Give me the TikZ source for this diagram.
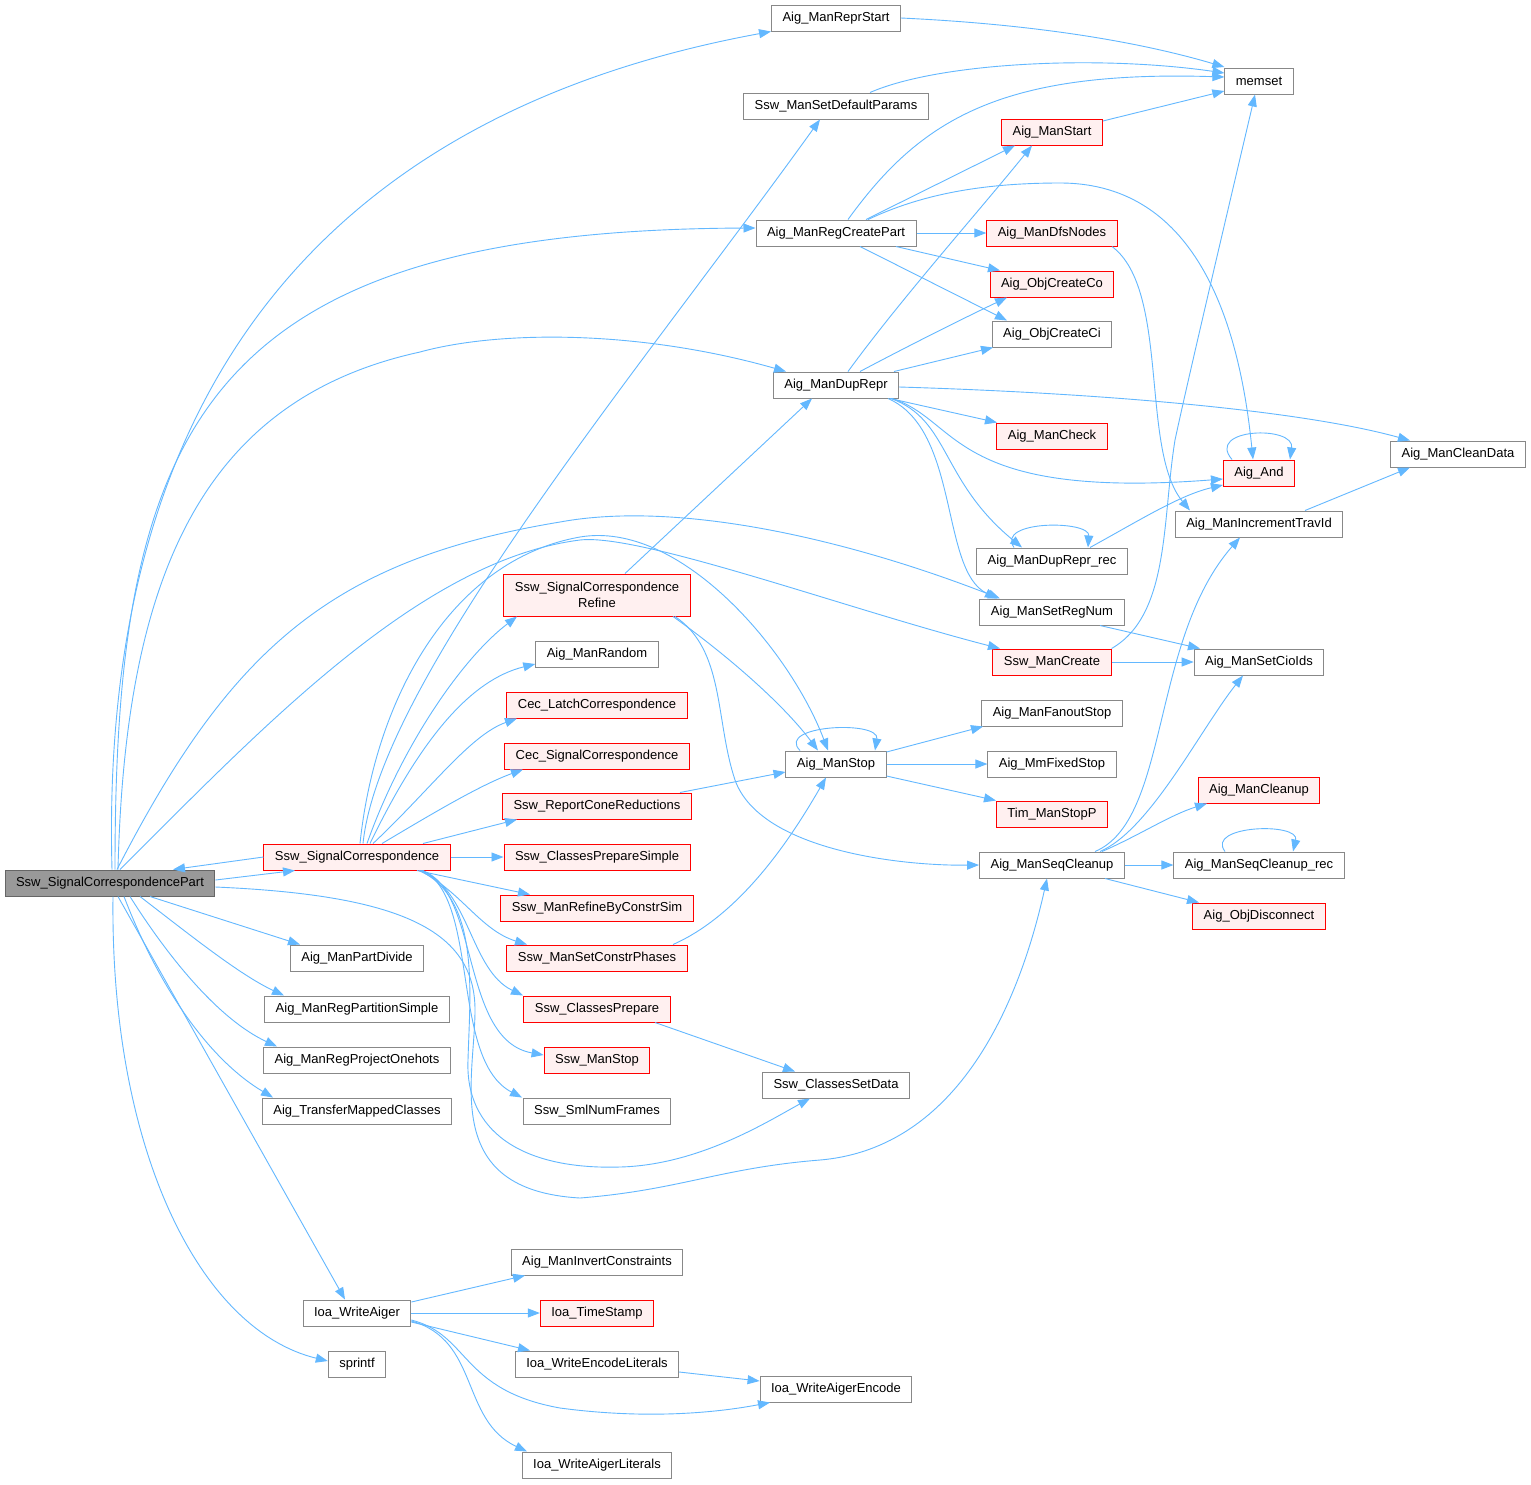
\documentclass[tikz,border=0pt]{standalone}
\usepackage{fontspec}
\setmainfont{Liberation Sans}
\usepackage{tikz}
\usetikzlibrary{arrows.meta}
\definecolor{edgeblue}{HTML}{63B8FF}
\definecolor{boxgray}{HTML}{888888}
\definecolor{redfill}{HTML}{FFF0F0}
\definecolor{rootfill}{HTML}{999999}
\definecolor{rootline}{HTML}{666666}
\newcommand{\graphfont}{\fontsize{13}{16}\selectfont}

\begin{document}
\begin{tikzpicture}[
  x=1pt, y=-1pt,
  box/.style={draw=boxgray,fill=white,line width=1pt,minimum height=26,
              inner xsep=11,inner ysep=0,align=center,font=\graphfont},
  redbox/.style={box,draw=red,fill=redfill},
  rootbox/.style={box,draw=rootline,fill=rootfill},
  call/.style={-{Triangle[length=12,width=9]},draw=edgeblue,line width=0.9pt}
]
  \path[use as bounding box,fill=white] (0,0) rectangle (1531,1484);

  \node[rootbox] (part) at (110,883) {Ssw\_SignalCorrespondencePart};
  \node[box] (reprStart) at (836,18) {Aig\_ManReprStart};
  \node[box] (memset) at (1259,81) {memset};
  \node[box] (setDefParams) at (836,106) {Ssw\_ManSetDefaultParams};
  \node[redbox] (manStart) at (1052,132) {Aig\_ManStart};
  \node[box] (regCreatePart) at (836,233) {Aig\_ManRegCreatePart};
  \node[redbox] (dfsNodes) at (1052,233) {Aig\_ManDfsNodes};
  \node[redbox] (objCreateCo) at (1052,284) {Aig\_ObjCreateCo};
  \node[box] (objCreateCi) at (1052,334) {Aig\_ObjCreateCi};
  \node[box] (dupRepr) at (836,385) {Aig\_ManDupRepr};
  \node[redbox] (manCheck) at (1052,436) {Aig\_ManCheck};
  \node[redbox] (aigAnd) at (1259,473) {Aig\_And};
  \node[box] (cleanData) at (1458,454) {Aig\_ManCleanData};
  \node[box] (incTravId) at (1259,524) {Aig\_ManIncrementTravId};
  \node[box] (dupReprRec) at (1052,561) {Aig\_ManDupRepr\_rec};
  \node[redbox,minimum height=42] (scRefine) at (597,595) {Ssw\_SignalCorrespondence\\Refine};
  \node[box] (setRegNum) at (1052,612) {Aig\_ManSetRegNum};
  \node[box] (manRandom) at (597,654) {Aig\_ManRandom};
  \node[redbox] (manCreate) at (1052,662) {Ssw\_ManCreate};
  \node[box] (setCioIds) at (1259,662) {Aig\_ManSetCioIds};
  \node[redbox] (latchCorr) at (597,705) {Cec\_LatchCorrespondence};
  \node[box] (fanoutStop) at (1052,713) {Aig\_ManFanoutStop};
  \node[redbox] (cecSigCorr) at (597,756) {Cec\_SignalCorrespondence};
  \node[box] (manStop) at (836,764) {Aig\_ManStop};
  \node[box] (mmFixedStop) at (1052,764) {Aig\_MmFixedStop};
  \node[redbox] (reportCone) at (597,806) {Ssw\_ReportConeReductions};
  \node[redbox] (manCleanup) at (1259,790) {Aig\_ManCleanup};
  \node[redbox] (timStop) at (1052,814) {Tim\_ManStopP};
  \node[redbox] (sigCorr) at (357,857) {Ssw\_SignalCorrespondence};
  \node[redbox] (prepSimple) at (597,857) {Ssw\_ClassesPrepareSimple};
  \node[box] (seqCleanup) at (1052,865) {Aig\_ManSeqCleanup};
  \node[box] (seqCleanupRec) at (1259,865) {Aig\_ManSeqCleanup\_rec};
  \node[redbox] (refineConstr) at (597,908) {Ssw\_ManRefineByConstrSim};
  \node[redbox] (objDisconnect) at (1259,916) {Aig\_ObjDisconnect};
  \node[box] (partDivide) at (357,958) {Aig\_ManPartDivide};
  \node[redbox] (setConstr) at (597,958) {Ssw\_ManSetConstrPhases};
  \node[box] (regPartSimple) at (357,1009) {Aig\_ManRegPartitionSimple};
  \node[redbox] (classesPrep) at (597,1009) {Ssw\_ClassesPrepare};
  \node[box] (regProjOne) at (357,1060) {Aig\_ManRegProjectOnehots};
  \node[redbox] (sswManStop) at (597,1060) {Ssw\_ManStop};
  \node[box] (classesSetData) at (836,1085) {Ssw\_ClassesSetData};
  \node[box] (transferClasses) at (357,1111) {Aig\_TransferMappedClasses};
  \node[box] (smlFrames) at (597,1111) {Ssw\_SmlNumFrames};
  \node[box] (invertConstr) at (597,1262) {Aig\_ManInvertConstraints};
  \node[box] (writeAiger) at (357,1313) {Ioa\_WriteAiger};
  \node[redbox] (timeStamp) at (597,1313) {Ioa\_TimeStamp};
  \node[box] (sprintfn) at (357,1364) {sprintf};
  \node[box] (encodeLits) at (597,1364) {Ioa\_WriteEncodeLiterals};
  \node[box] (aigerEncode) at (836,1389) {Ioa\_WriteAigerEncode};
  \node[box] (aigerLits) at (597,1465) {Ioa\_WriteAigerLiterals};

  % calls of Ssw_SignalCorrespondencePart
  \draw[call] ([xshift=2]part.north) .. controls (100,430) and (290,120) .. (reprStart.south west);
  \draw[call] ([xshift=5]part.north) .. controls (115,430) and (200,230) .. ([yshift=5]regCreatePart.west);
  \draw[call] ([xshift=8]part.north) .. controls (125,580) and (200,400) .. (420,352)
    .. controls (500,330) and (640,330) .. ([xshift=-50]dupRepr.north);
  \draw[call] ([xshift=7]part.north) .. controls (230,650) and (330,560) .. (560,522)
    .. controls (680,500) and (850,540) .. ([xshift=-52]setRegNum.north);
  \draw[call] ([xshift=10]part.north) .. controls (260,730) and (420,560) .. (580,540)
    .. controls (640,533) and (850,610) .. ([xshift=-52]manCreate.north);
  \draw[call] ([yshift=3]part.east) -- ([xshift=-62]sigCorr.south);
  \draw[call] ([xshift=40]part.south) -- ([xshift=-57]partDivide.north);
  \draw[call] ([xshift=30]part.south) .. controls (190,935) and (240,975) .. ([xshift=-73]regPartSimple.north);
  \draw[call] ([xshift=20]part.south) .. controls (170,960) and (220,1020) .. ([xshift=-80]regProjOne.north);
  \draw[call] ([xshift=14]part.south) .. controls (160,990) and (210,1060) .. ([xshift=-84]transferClasses.north);
  \draw[call] ([xshift=8]part.south) -- ([xshift=-12]writeAiger.north);
  \draw[call] ([xshift=3]part.south) .. controls (110,1150) and (200,1330) .. ([yshift=3]sprintfn.west);
  \draw[call] ([yshift=-4]part.east) .. controls (400,895) and (475,930) .. (475,1010)
    .. controls (475,1080) and (440,1190) .. (580,1198)
    .. controls (680,1190) and (720,1168) .. (820,1160)
    .. controls (960,1148) and (1020,1000) .. ([xshift=-5]seqCleanup.south);

  % calls of Ssw_SignalCorrespondence
  \draw[call] (sigCorr.west) -- ([xshift=63]part.north);
  \draw[call] ([xshift=6]sigCorr.north) .. controls (380,680) and (640,370) .. ([xshift=-16]setDefParams.south);
  \draw[call] ([xshift=3]sigCorr.north) .. controls (375,700) and (450,560) .. (580,537)
    .. controls (680,520) and (790,650) .. ([xshift=-8]manStop.north);
  \draw[call] ([xshift=10]sigCorr.north) .. controls (400,750) and (460,660) .. ([xshift=-80]scRefine.south);
  \draw[call] ([xshift=13]sigCorr.north) .. controls (420,740) and (470,680) .. ([yshift=-10]manRandom.west);
  \draw[call] ([xshift=16]sigCorr.north) .. controls (430,790) and (470,735) .. ([xshift=-80]latchCorr.south);
  \draw[call] ([xshift=25]sigCorr.north) .. controls (430,815) and (480,785) .. ([xshift=-74]cecSigCorr.south);
  \draw[call] ([xshift=66]sigCorr.north) -- ([xshift=-80]reportCone.south);
  \draw[call] (sigCorr.east) -- (prepSimple.west);
  \draw[call] ([xshift=60]sigCorr.south) -- ([xshift=-67]refineConstr.north);
  \draw[call] ([xshift=62]sigCorr.south) .. controls (460,890) and (480,930) .. ([xshift=-70]setConstr.north);
  \draw[call] ([xshift=64]sigCorr.south) .. controls (470,890) and (470,970) .. ([xshift=-74]classesPrep.north);
  \draw[call] ([xshift=65]sigCorr.south) .. controls (480,890) and (460,1040) .. ([yshift=5]sswManStop.west);
  \draw[call] ([xshift=66]sigCorr.south) .. controls (480,900) and (450,1060) .. ([xshift=-75]smlFrames.north);
  \draw[call] ([xshift=63]sigCorr.south) .. controls (480,900) and (470,990) .. (468,1060)
    .. controls (465,1130) and (520,1170) .. (620,1167)
    .. controls (700,1165) and (770,1120) .. ([xshift=-26]classesSetData.south);

  % Ssw_SignalCorrespondenceRefine
  \draw[call] ([xshift=28]scRefine.north) -- ([xshift=-24]dupRepr.south);
  \draw[call] ([xshift=76]scRefine.south) .. controls (720,650) and (780,700) .. ([xshift=-18]manStop.north);
  \draw[call] ([xshift=78]scRefine.south) .. controls (725,650) and (715,720) .. (735,780)
    .. controls (760,850) and (900,866) .. (seqCleanup.west);

  % memset
  \draw[call] (reprStart.east) .. controls (1050,25) and (1150,45) .. ([yshift=14]memset.west);
  \draw[call] ([xshift=34]setDefParams.north) .. controls (940,62) and (1100,55) .. ([yshift=8]memset.west);
  \draw[call] ([xshift=12]regCreatePart.north) .. controls (920,120) and (1000,70) .. ([yshift=4]memset.west);
  \draw[call] ([yshift=11]manStart.east) -- ([yshift=-10]memset.west);
  \draw[call] (manCreate.north east) .. controls (1170,615) and (1162,520) .. (1175,440)
    .. controls (1190,370) and (1235,180) .. ([xshift=-4]memset.south);

  % Aig_ManRegCreatePart
  \draw[call] ([xshift=30]regCreatePart.north) -- ([xshift=-37]manStart.south);
  \draw[call] (regCreatePart.east) -- (dfsNodes.west);
  \draw[call] ([xshift=60]regCreatePart.south) -- ([xshift=-52]objCreateCo.north);
  \draw[call] ([xshift=24]regCreatePart.south) -- ([xshift=-45]objCreateCi.north);
  \draw[call] ([xshift=32]regCreatePart.north) .. controls (920,195) and (980,183) .. (1060,183)
    .. controls (1200,183) and (1240,330) .. ([xshift=-6]aigAnd.north);
  \draw[call] ([xshift=60]dfsNodes.south) .. controls (1170,290) and (1140,450) .. ([xshift=-69]incTravId.north);

  % Aig_ManDupRepr
  \draw[call] ([xshift=12]dupRepr.north) .. controls (900,300) and (980,210) .. ([xshift=-20]manStart.south);
  \draw[call] ([xshift=24]dupRepr.north) .. controls (910,345) and (960,320) .. ([xshift=-45]objCreateCo.south);
  \draw[call] ([xshift=58]dupRepr.north) -- ([xshift=-59]objCreateCi.south);
  \draw[call] ([yshift=-2]dupRepr.east) .. controls (1100,393) and (1300,410) .. ([xshift=-48]cleanData.north);
  \draw[call] ([xshift=54]dupRepr.south) -- ([xshift=-55]manCheck.north);
  \draw[call] ([xshift=56]dupRepr.south) .. controls (960,420) and (950,500) .. ([yshift=-6]aigAnd.west);
  \draw[call] ([xshift=55]dupRepr.south) .. controls (950,420) and (940,480) .. ([xshift=-30]dupReprRec.north);
  \draw[call] ([xshift=52]dupRepr.south) .. controls (960,430) and (940,570) .. ([xshift=-55]setRegNum.north);
  \draw[call] ([xshift=-27]aigAnd.north) .. controls (1205,428) and (1295,425) .. ([xshift=31]aigAnd.north);
  \draw[call] ([xshift=-38]dupReprRec.north) .. controls (995,520) and (1090,520) .. ([xshift=36]dupReprRec.north);
  \draw[call] ([xshift=38]dupReprRec.north) .. controls (1140,520) and (1180,495) .. ([yshift=-12]aigAnd.west);
  \draw[call] ([xshift=46]incTravId.north) -- ([xshift=-48]cleanData.south);
  \draw[call] ([xshift=48]setRegNum.south) -- ([xshift=-59]setCioIds.north);
  \draw[call] (manCreate.east) -- (setCioIds.west);

  % Aig_ManStop
  \draw[call] ([xshift=-36]manStop.north) .. controls (775,725) and (880,720) .. ([xshift=39]manStop.north);
  \draw[call] ([yshift=12]manStop.east) -- ([xshift=-69]fanoutStop.south);
  \draw[call] (manStop.east) -- (mmFixedStop.west);
  \draw[call] ([yshift=-12]manStop.east) -- ([xshift=-56]timStop.north);
  \draw[call] ([xshift=83]reportCone.north) -- ([yshift=-8]manStop.west);
  \draw[call] ([xshift=76]setConstr.north) .. controls (740,915) and (790,840) .. ([xshift=-10]manStop.south);

  % Aig_ManSeqCleanup
  \draw[call] ([xshift=43]seqCleanup.north) .. controls (1170,820) and (1150,640) .. ([xshift=-19]incTravId.south);
  \draw[call] ([xshift=48]seqCleanup.north) .. controls (1150,830) and (1200,730) .. ([xshift=-16]setCioIds.south);
  \draw[call] ([xshift=50]seqCleanup.north) .. controls (1140,835) and (1170,815) .. ([xshift=-52]manCleanup.south);
  \draw[call] (seqCleanup.east) -- (seqCleanupRec.west);
  \draw[call] ([xshift=-34]seqCleanupRec.north) .. controls (1205,825) and (1300,822) .. ([xshift=34]seqCleanupRec.north);
  \draw[call] ([xshift=53]seqCleanup.south) -- ([xshift=-60]objDisconnect.north);
  \draw[call] ([xshift=58]classesPrep.south) -- ([xshift=-41]classesSetData.north);

  % Ioa_WriteAiger
  \draw[call] ([yshift=11]writeAiger.east) -- ([xshift=-72]invertConstr.south);
  \draw[call] (writeAiger.east) -- (timeStamp.west);
  \draw[call] ([yshift=-9]writeAiger.east) -- ([xshift=-67]encodeLits.north);
  \draw[call] ([yshift=-7]writeAiger.east) .. controls (470,1335) and (460,1390) .. (560,1408)
    .. controls (650,1420) and (720,1412) .. ([xshift=-66]aigerEncode.south);
  \draw[call] ([yshift=-8]writeAiger.east) .. controls (480,1340) and (460,1420) .. ([xshift=-70]aigerLits.north);
  \draw[call] ([yshift=-8]encodeLits.east) -- ([yshift=8]aigerEncode.west);
\end{tikzpicture}
\end{document}
